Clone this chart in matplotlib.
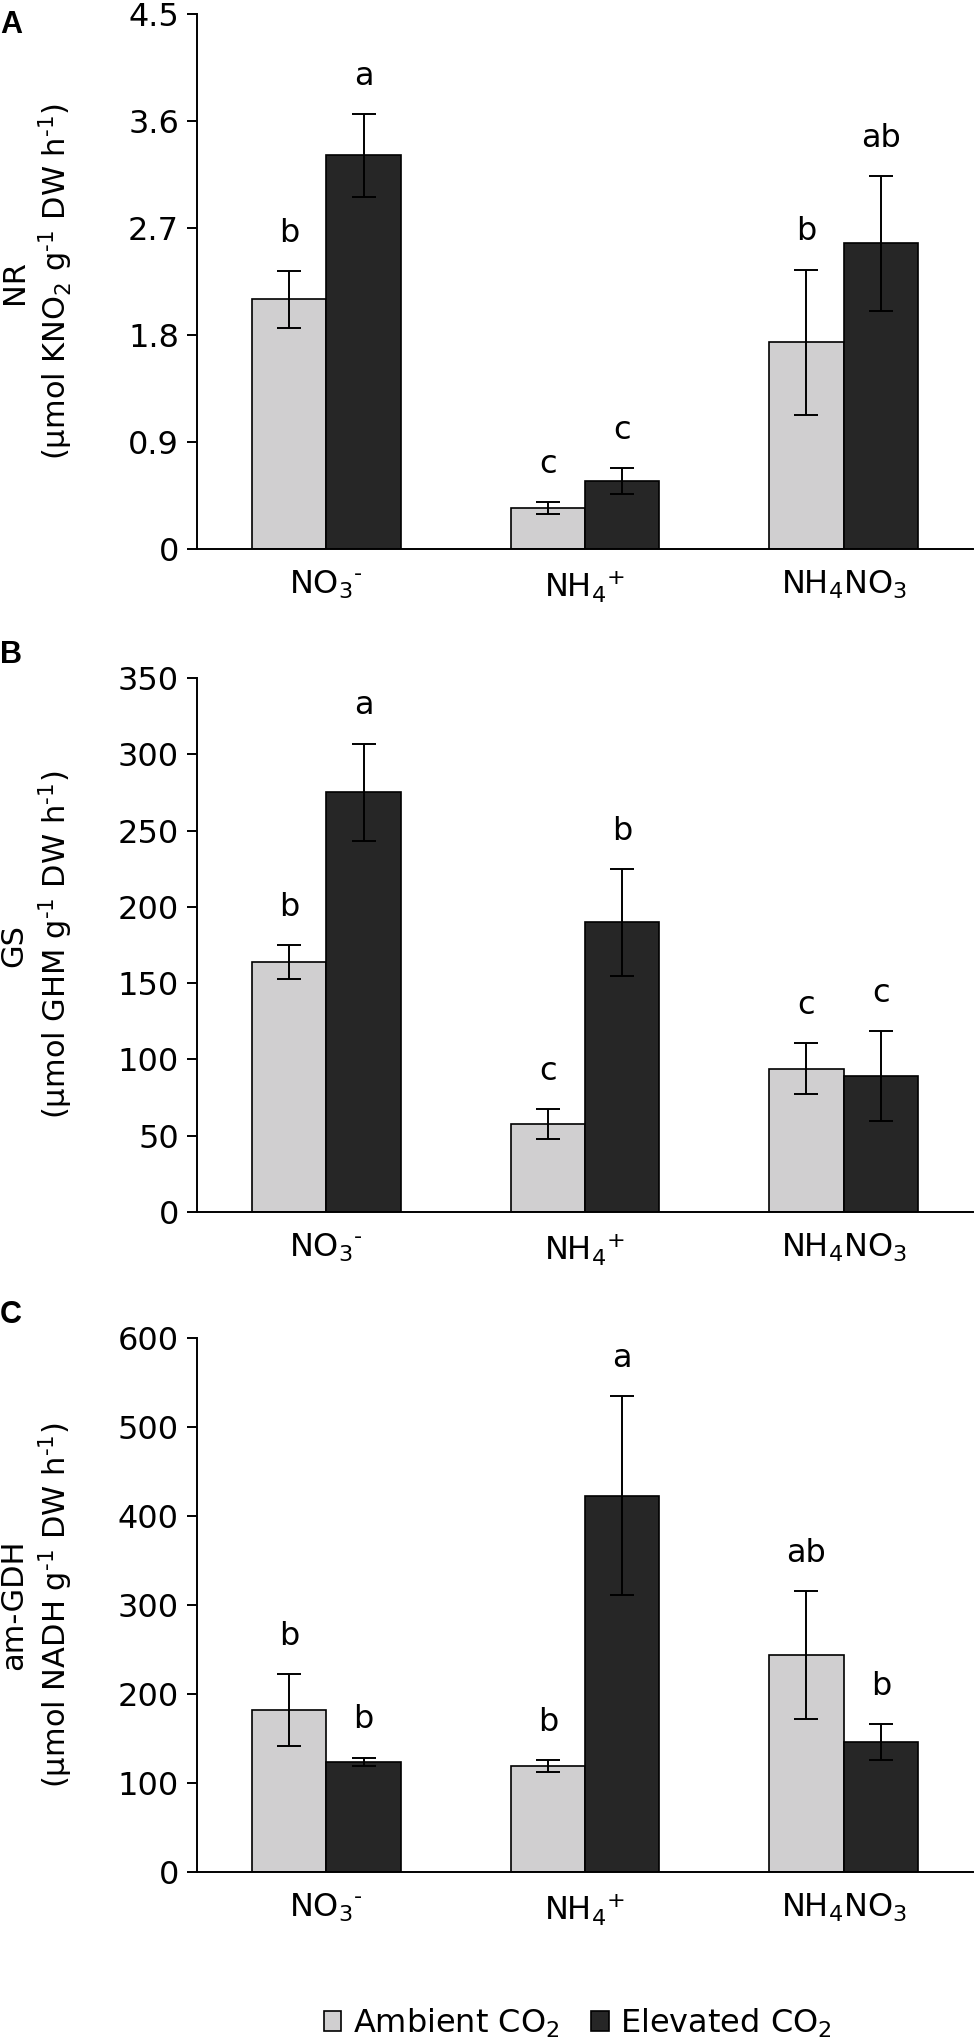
import matplotlib
matplotlib.use("Agg")
import matplotlib.pyplot as plt
from matplotlib.patches import Patch
import numpy as np

plt.rcParams['font.family'] = ['DejaVu Sans']
plt.rcParams['mathtext.fontset'] = 'dejavusans'

HY = "\u2010"  # short hyphen used in superscripts
categories = ["NO$_3$$^{" + HY + "}$", "NH$_4$$^{+}$", "NH$_4$NO$_3$"]
series_names = ["Ambient CO$_2$", "Elevated CO$_2$"]

# Panel A: NR
nr_ambient = [2.10, 0.345, 1.74]
nr_ambient_err = [0.24, 0.05, 0.61]
nr_elevated = [3.31, 0.57, 2.57]
nr_elevated_err = [0.35, 0.11, 0.57]
nr_letters_amb = ["b", "c", "b"]
nr_letters_elev = ["a", "c", "ab"]

# Panel B: GS
gs_ambient = [164, 57.6, 94]
gs_ambient_err = [11, 10, 16.5]
gs_elevated = [275, 190, 89]
gs_elevated_err = [32, 35, 29.5]
gs_letters_amb = ["b", "c", "c"]
gs_letters_elev = ["a", "b", "c"]

# Panel C: am-GDH
gdh_ambient = [182, 119, 244]
gdh_ambient_err = [40, 7, 72]
gdh_elevated = [124, 423, 146]
gdh_elevated_err = [4.5, 112, 20]
gdh_letters_amb = ["b", "b", "ab"]
gdh_letters_elev = ["b", "a", "b"]

nr_ticks = [0, 0.9, 1.8, 2.7, 3.6, 4.5]
nr_ticklabels = ["0", "0.9", "1.8", "2.7", "3.6", "4.5"]
gs_ticks = [0, 50, 100, 150, 200, 250, 300, 350]
gdh_ticks = [0, 100, 200, 300, 400, 500, 600]

unit_tail = " g$^{" + HY + "1}$ DW h$^{" + HY + "1}$)"

W, H = 974, 2042
fig = plt.figure(figsize=(W / 100, H / 100), dpi=100)

c_amb = "#d0cfd0"
c_elev = "#262626"
FS = 23

panels = [
    dict(top=14, bot=549, amb=nr_ambient, ambe=nr_ambient_err, el=nr_elevated, ele=nr_elevated_err,
         la=nr_letters_amb, le=nr_letters_elev, ticks=nr_ticks, tl=nr_ticklabels, ymax=4.5,
         lab1="NR", lab2="(µmol KNO$_2$" + unit_tail, letter="A", ly=10),
    dict(top=678, bot=1212, amb=gs_ambient, ambe=gs_ambient_err, el=gs_elevated, ele=gs_elevated_err,
         la=gs_letters_amb, le=gs_letters_elev, ticks=gs_ticks, tl=[str(t) for t in gs_ticks], ymax=350,
         lab1="GS", lab2="(µmol GHM" + unit_tail, letter="B", ly=640),
    dict(top=1338, bot=1872, amb=gdh_ambient, ambe=gdh_ambient_err, el=gdh_elevated, ele=gdh_elevated_err,
         la=gdh_letters_amb, le=gdh_letters_elev, ticks=gdh_ticks, tl=[str(t) for t in gdh_ticks], ymax=600,
         lab1="am-GDH", lab2="(µmol NADH" + unit_tail, letter="C", ly=1300),
]

left_px, right_px = 197, 973
x = np.arange(len(categories))
bw = 0.288

for p in panels:
    ax = fig.add_axes([left_px / W, (H - p["bot"]) / H, (right_px - left_px) / W, (p["bot"] - p["top"]) / H])
    ekw = dict(ecolor="black", elinewidth=1.4, capthick=1.4)
    ax.bar(x - bw / 2, p["amb"], bw, yerr=p["ambe"], color=c_amb, edgecolor="black", linewidth=1.2,
           capsize=8.5, error_kw=ekw, zorder=2)
    ax.bar(x + bw / 2, p["el"], bw, yerr=p["ele"], color=c_elev, edgecolor="black", linewidth=1.2,
           capsize=8.5, error_kw=ekw, zorder=2)
    for i in range(len(x)):
        ax.annotate(p["la"][i], (x[i] - bw / 2, p["amb"][i] + p["ambe"][i]), xytext=(0, 21),
                    textcoords="offset points", ha="center", va="baseline", fontsize=FS)
        ax.annotate(p["le"][i], (x[i] + bw / 2, p["el"][i] + p["ele"][i]), xytext=(0, 21),
                    textcoords="offset points", ha="center", va="baseline", fontsize=FS)
    ax.set_xlim(-0.5, 2.5)
    ax.set_ylim(0, p["ymax"])
    ax.set_yticks(p["ticks"])
    ax.set_yticklabels(p["tl"], fontsize=FS)
    ax.set_xticks(x)
    ax.set_xticklabels(categories, fontsize=FS)
    ax.tick_params(axis="x", length=0, pad=14)
    ax.tick_params(axis="y", length=7, width=1.4, pad=6)
    for s in ["top", "right"]:
        ax.spines[s].set_visible(False)
    for s in ["left", "bottom"]:
        ax.spines[s].set_linewidth(1.4)
    ymid = (H - (p["top"] + p["bot"]) / 2) / H
    fig.text(14 / W, ymid, p["lab1"], rotation=90, ha="center", va="center", fontsize=22)
    fig.text(56 / W, ymid, p["lab2"], rotation=90, ha="center", va="center", fontsize=22)
    fig.text(0 / W, (H - p["ly"]) / H, p["letter"], ha="left", va="top", fontsize=22,
             fontweight="bold", family="Liberation Sans")

handles = [Patch(facecolor=c_amb, edgecolor="black", linewidth=1.2),
           Patch(facecolor=c_elev, edgecolor="black", linewidth=1.2)]
fig.legend(handles, series_names, loc="center", bbox_to_anchor=(578 / W, 19 / H), ncol=2,
           frameon=False, fontsize=FS, handlelength=0.55, handleheight=0.55, handletextpad=0.35,
           columnspacing=1.0, borderpad=0)

fig.savefig("out.png", dpi=100)
